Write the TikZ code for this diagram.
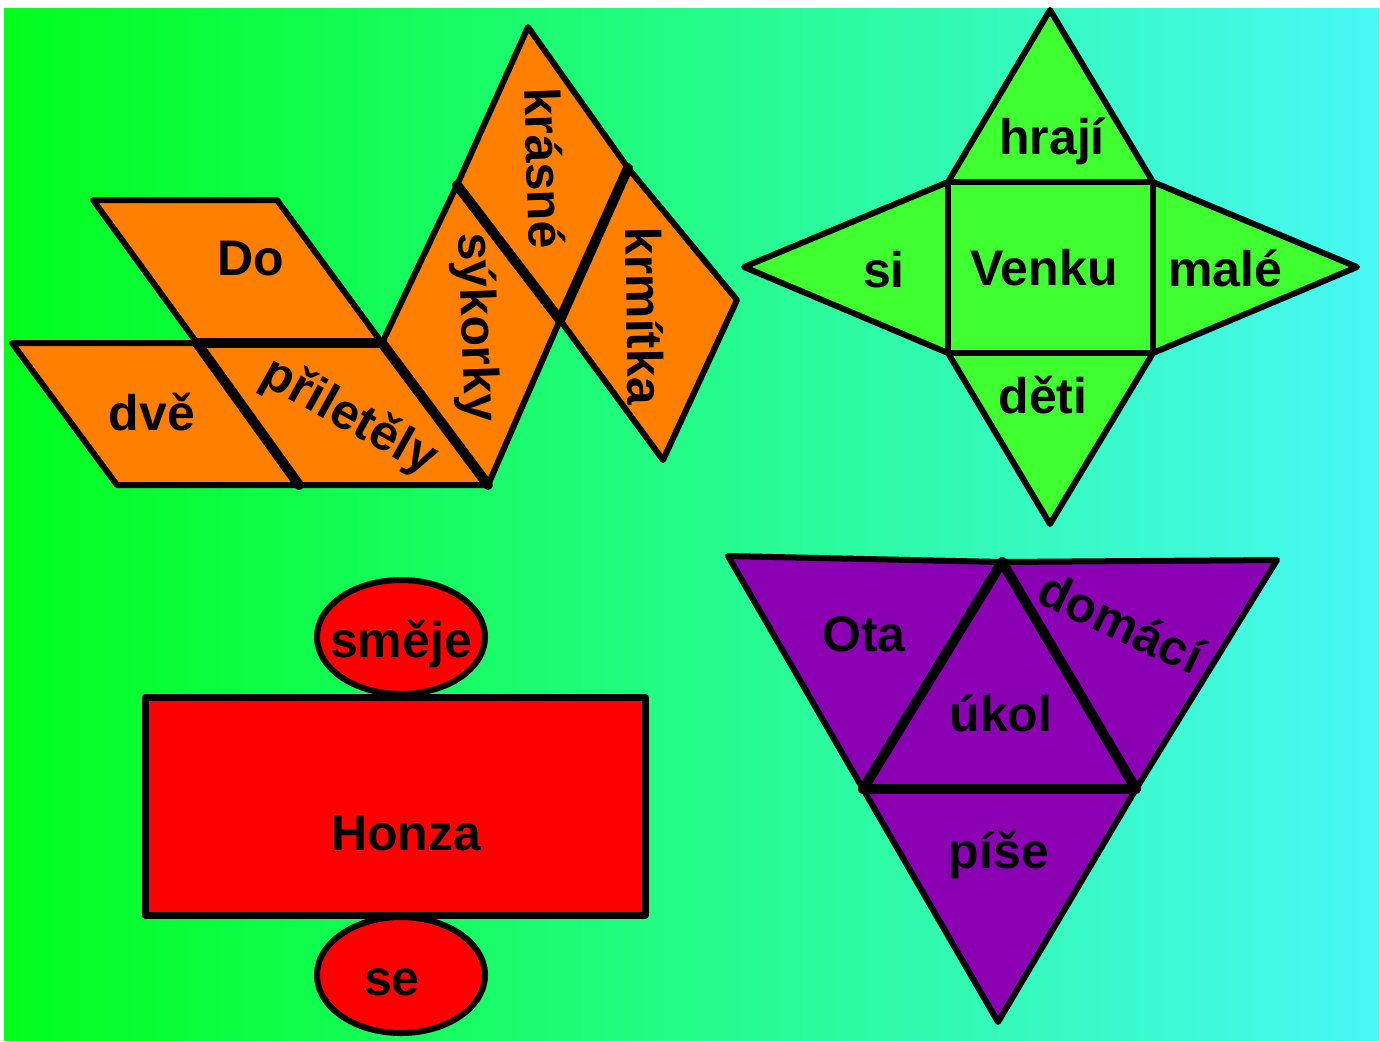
\documentclass[tikz,border=0pt]{standalone}
\usepackage{fontspec}
\setmainfont{Liberation Sans}
\definecolor{bgl}{RGB}{0,255,28}
\definecolor{bgr}{RGB}{72,248,246}
\definecolor{orangeF}{RGB}{255,128,0}
\definecolor{starF}{RGB}{64,255,48}
\definecolor{redF}{RGB}{255,0,0}
\definecolor{purpleF}{RGB}{140,0,180}
\begin{document}
\begin{tikzpicture}[x=1pt,y=-1pt,
  word/.style={font=\bfseries\fontsize{50}{60}\selectfont, inner sep=0pt, anchor=base},
  rword/.style={font=\bfseries\fontsize{50}{60}\selectfont, inner sep=0pt, anchor=center},
  face/.style={draw=black, line width=6pt, line join=round},
  fold/.style={draw=black, line width=10pt, line cap=round}]
\useasboundingbox (0,0) rectangle (1380,1041);
\fill[white] (0,0) rectangle (1380,1041);
\shade[left color=bgl, right color=bgr] (4,9) rectangle (1379,1040);

% ---------- orange net ----------
\coordinate (a1) at (93,200);
\coordinate (a2) at (277,200);
\coordinate (a3) at (382,343);
\coordinate (a4) at (197,343);
\coordinate (b1) at (12,343);
\coordinate (b3) at (299,485);
\coordinate (b4) at (117,485);
\coordinate (c3) at (488,485);
\coordinate (d2) at (457,185);
\coordinate (d3) at (560,320);
\coordinate (e2) at (528,27);
\coordinate (e3) at (628,168);
\coordinate (f2) at (737,300);
\coordinate (f3) at (663,460);
\path[face, fill=orangeF] (a1) -- (a2) -- (a3) -- (a4) -- cycle;
\path[face, fill=orangeF] (b1) -- (a4) -- (b3) -- (b4) -- cycle;
\path[face, fill=orangeF] (a4) -- (a3) -- (c3) -- (b3) -- cycle;
\path[face, fill=orangeF] (a3) -- (d2) -- (d3) -- (c3) -- cycle;
\path[face, fill=orangeF] (d2) -- (e2) -- (e3) -- (d3) -- cycle;
\path[face, fill=orangeF] (e3) -- (f2) -- (f3) -- (d3) -- cycle;
\draw[fold] (a4) -- (a3);
\draw[fold] (a4) -- (b3);
\draw[fold] (a3) -- (c3);
\draw[fold] (d2) -- (d3);
\draw[fold] (e3) -- (d3);
\node[word] (tDo) at (251,275) {Do};
\node[word] (tdve) at (152,430) {dvě};
\node[rword, rotate=-29] (tpril) at (349,417) {přiletěly};
\node[rword, rotate=-88] (tsyk) at (475,327) {sýkorky};
\node[rword, rotate=-88] (tkras) at (545,168) {krásné};
\node[rword, rotate=-89] (tkrm) at (645,316) {krmítka};

% ---------- star (pyramid net) ----------
\coordinate (sT) at (1050,10);
\coordinate (s1) at (948,182);
\coordinate (s2) at (1153,182);
\coordinate (s3) at (1153,353);
\coordinate (s4) at (948,353);
\coordinate (sL) at (744,267);
\coordinate (sR) at (1357,267);
\coordinate (sB) at (1050,524);
\path[face, fill=starF] (s1) -- (sT) -- (s2) -- (sR) -- (s3) -- (sB) -- (s4) -- (sL) -- cycle;
\draw[face] (s1) -- (s2) -- (s3) -- (s4) -- cycle;
\node[word] (thraji) at (1052,154) {hrají};
\node[word] (tsi) at (884,287) {si};
\node[word] (tvenku) at (1044,285) {Venku};
\node[word] (tmale) at (1225,286) {malé};
\node[word] (tdeti) at (1043,413) {děti};

% ---------- red net (cylinder) ----------
\path[draw=black, line width=6pt, fill=redF] (401,637) ellipse [x radius=84, y radius=57];
\path[draw=black, line width=6pt, fill=redF] (401,975) ellipse [x radius=84, y radius=58];
\path[draw=black, line width=7pt, fill=redF, line join=round] (145,697) rectangle (645,915);
\node[word] (tsmeje) at (401,657) {směje};
\node[word] (thonza) at (406,850) {Honza};
\node[word] (tse) at (392,995) {se};

% ---------- purple net (tetrahedron) ----------
\coordinate (p1) at (728,556);
\coordinate (p2) at (1002,562);
\coordinate (p3) at (1277,560);
\coordinate (q1) at (863,789);
\coordinate (q2) at (1136,789);
\coordinate (pB) at (998,1022);
\path[face, fill=purpleF] (p1) -- (p2) -- (q1) -- cycle;
\path[face, fill=purpleF] (p2) -- (p3) -- (q2) -- cycle;
\path[face, fill=purpleF] (p2) -- (q2) -- (q1) -- cycle;
\path[face, fill=purpleF] (q1) -- (q2) -- (pB) -- cycle;
\draw[fold] (p2) -- (q1);
\draw[fold] (p2) -- (q2);
\draw[fold] (q1) -- (q2);
\node[word] (tota) at (864,651) {Ota};
\node[word] (tukol) at (1001,731) {úkol};
\node[word] (tpise) at (999,868) {píše};
\node[rword, rotate=-25] (tdomaci) at (1121,622) {domácí};
\end{tikzpicture}
\end{document}
